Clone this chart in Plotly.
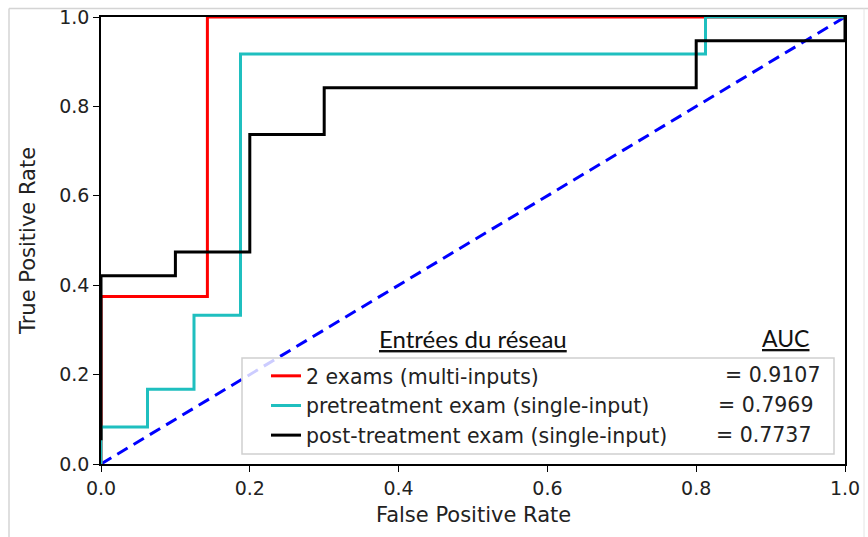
import plotly.graph_objects as go

# ROC curves
fpr_multi = [0.0, 0.0, 0.143, 0.143, 1.0]
tpr_multi = [0.0, 0.375, 0.375, 1.0, 1.0]

fpr_pre = [0.0, 0.0, 0.0625, 0.0625, 0.125, 0.125, 0.1875, 0.1875, 0.8125, 0.8125, 1.0]
tpr_pre = [0.0, 0.083, 0.083, 0.167, 0.167, 0.333, 0.333, 0.917, 0.917, 1.0, 1.0]

fpr_post = [0.0, 0.0, 0.1, 0.1, 0.2, 0.2, 0.3, 0.3, 0.8, 0.8, 1.0, 1.0]
tpr_post = [0.053, 0.421, 0.421, 0.474, 0.474, 0.737, 0.737, 0.842, 0.842, 0.947, 0.947, 1.0]

labels = ['2 exams (multi-inputs)', 'pretreatment exam (single-input)',
          'post-treatment exam (single-input)']
auc_values = ['0.9107', '0.7969', '0.7737']
colors = ['#ff0000', '#1fbfbf', '#000000']

chance = [0.0, 1.0]
ticks = [0.0, 0.2, 0.4, 0.6, 0.8, 1.0]

W, H = 868, 537
L, R, T, B = 101, 845, 17, 464


# positions below are given in screenshot pixels
def px(x):
    return (x - L) / (R - L)


def py(y):
    return (B - y) / (B - T)


fig = go.Figure()

fig.add_trace(go.Scatter(x = chance, y = chance, mode = 'lines', showlegend = False,
                         line = dict(color = '#0000ff', width = 3, dash = '12px,7px')))

curves = [(fpr_multi, tpr_multi), (fpr_pre, tpr_pre), (fpr_post, tpr_post)]
for i, (xs, ys) in enumerate(curves):
    fig.add_trace(go.Scatter(x = xs, y = ys, mode = 'lines', name = labels[i],
                             line = dict(color = colors[i], width = 3)))

# legend frame (matplotlib style)
shapes = [
    dict(type = 'rect', xref = 'paper', yref = 'paper', x0 = px(242), x1 = px(834),
         y0 = py(454), y1 = py(358), line = dict(color = '#d0d0d0', width = 1.5),
         fillcolor = 'rgba(255,255,255,0.8)', layer = 'above'),
    # outer frame of the screenshot
    dict(type = 'line', xref = 'paper', yref = 'paper', x0 = px(9), x1 = px(868),
         y0 = py(8.5), y1 = py(8.5), line = dict(color = '#d4d4d4', width = 1.5)),
    dict(type = 'line', xref = 'paper', yref = 'paper', x0 = px(9), x1 = px(9),
         y0 = py(537), y1 = py(8.5), line = dict(color = '#d4d4d4', width = 1.5)),
    dict(type = 'line', xref = 'paper', yref = 'paper', x0 = px(864), x1 = px(864),
         y0 = py(537), y1 = py(8.5), line = dict(color = '#e4e4e4', width = 1)),
]

annotations = [
    dict(text = '<u>Entrées du réseau</u>', x = px(473), y = py(338), xref = 'paper', yref = 'paper',
         showarrow = False, xanchor = 'center', yanchor = 'middle',
         font = dict(family = 'Lato', size = 24, color = '#111')),
    dict(text = '<u>AUC</u>', x = px(785), y = py(338), xref = 'paper', yref = 'paper',
         showarrow = False, xanchor = 'center', yanchor = 'middle',
         font = dict(family = 'Lato', size = 23, color = '#111')),
    dict(text = 'False Positive Rate', x = 0.5, y = py(515), xref = 'paper', yref = 'paper',
         showarrow = False, xanchor = 'center', yanchor = 'middle',
         font = dict(family = 'DejaVu Sans', size = 21, color = '#222')),
    dict(text = 'True Positive Rate', x = px(28), y = py(241), xref = 'paper', yref = 'paper',
         showarrow = False, xanchor = 'center', yanchor = 'middle', textangle = -90,
         font = dict(family = 'DejaVu Sans', size = 21, color = '#222')),
]
value_right = [822, 815, 813]
value_rows = [375, 405, 435]
for i, v in enumerate(auc_values):
    annotations.append(dict(text = '= ' + v, x = px(value_right[i]), y = py(value_rows[i]),
                            xref = 'paper', yref = 'paper', showarrow = False,
                            xanchor = 'right', yanchor = 'middle',
                            font = dict(family = 'DejaVu Sans', size = 20.5, color = '#222')))

fig.update_layout(
    width = W, height = H,
    margin = dict(l = L, r = W - R, t = T, b = H - B),
    plot_bgcolor = 'white', paper_bgcolor = 'white',
    font = dict(family = 'DejaVu Sans', size = 19, color = '#222'),
    shapes = shapes,
    annotations = annotations,
    legend = dict(x = px(266), y = py(356), xanchor = 'left', yanchor = 'top',
                  bgcolor = 'rgba(0,0,0,0)', borderwidth = 0,
                  font = dict(family = 'DejaVu Sans', size = 20.5, color = '#222')),
)

fig.update_xaxes(range = [0, 1], tickvals = ticks, tickformat = '.1f', automargin = False,
                 ticklabeloverflow = 'allow',
                 showgrid = False, zeroline = False, showline = True, linecolor = 'black',
                 linewidth = 1.5, mirror = True, ticks = 'outside', ticklen = 6,
                 tickcolor = 'black')
fig.update_yaxes(range = [0, 1], tickvals = ticks, tickformat = '.1f', automargin = False,
                 ticklabeloverflow = 'allow',
                 showgrid = False, zeroline = False, showline = True, linecolor = 'black',
                 linewidth = 1.5, mirror = True, ticks = 'outside', ticklen = 6,
                 tickcolor = 'black')

# drop the default page margin so the figure fills the window exactly
fig.write_html('out.html', config = {'displayModeBar': False},
               post_script = "document.body.style.margin = '0px';")
